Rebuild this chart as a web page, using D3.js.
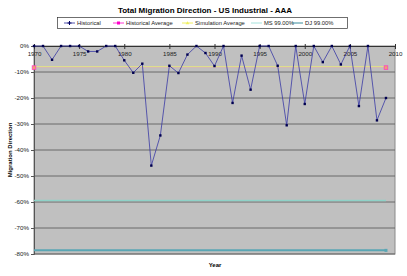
<!DOCTYPE html>
<html lang="en">
<head>
<meta charset="UTF-8">
<title>Total Migration Direction</title>
<style>
  body { margin: 0; background: #fff; }
  text { font-family: Arial, "Liberation Sans", sans-serif; }
</style>
</head>
<body>
<script src="https://d3js.org/d3.v7.min.js"></script>
<script>
    // data
    let years = [1970, 1971, 1972, 1973, 1974, 1975, 1976, 1977, 1978, 1979,
        1980, 1981, 1982, 1983, 1984, 1985, 1986, 1987, 1988, 1989,
        1990, 1991, 1992, 1993, 1994, 1995, 1996, 1997, 1998, 1999,
        2000, 2001, 2002, 2003, 2004, 2005, 2006, 2007, 2008, 2009];
    let historical = [0, 0, -0.053, 0, 0, 0, -0.021, -0.021, 0, 0,
        -0.055, -0.103, -0.068, -0.46, -0.344, -0.076, -0.104, -0.033, 0, -0.027,
        -0.077, 0, -0.219, -0.037, -0.168, 0, 0, -0.076, -0.305, 0,
        -0.223, 0, -0.062, 0, -0.071, 0, -0.231, 0, -0.286, -0.20];
    let histAvgYears = [1970, 2009];
    let histAvg = [-0.083, -0.083];
    let simAvg = [-0.080, -0.080];
    let ms99 = [-0.594, -0.594];
    let dj99 = [-0.786, -0.786];
    let yTicks = [0, -0.1, -0.2, -0.3, -0.4, -0.5, -0.6, -0.7, -0.8];
    let xTicks = [1970, 1975, 1980, 1985, 1990, 1995, 2000, 2005, 2010];

    let w = 407, h = 276;
    let plot = {left: 34, right: 395, top: 46, bottom: 254};

    let svg = d3.select("body").append("svg")
        .attr("width", w)
        .attr("height", h);

    let xScale = d3.scaleLinear().domain([1970, 2010]).range([plot.left, plot.right]);
    let yScale = d3.scaleLinear().domain([-0.8, 0]).range([plot.bottom, plot.top]);

    // plot area
    svg.append("rect")
        .attr("x", plot.left).attr("y", plot.top)
        .attr("width", plot.right - plot.left)
        .attr("height", plot.bottom - plot.top)
        .attr("fill", "#c0c0c0")
        .attr("stroke", "#8a8a8a")
        .attr("stroke-width", 1);

    // gridlines
    svg.append("g").selectAll("line")
        .data(yTicks.slice(1))
        .enter().append("line")
        .attr("x1", plot.left).attr("x2", plot.right)
        .attr("y1", d => yScale(d)).attr("y2", d => yScale(d))
        .attr("stroke", "#606060")
        .attr("stroke-width", 0.9);

    // y axis
    let yAxis = d3.axisLeft(yScale)
        .tickValues(yTicks)
        .tickSize(3)
        .tickFormat(d => Math.round(d * 100) + "%");
    let gy = svg.append("g")
        .attr("transform", "translate(" + plot.left + ",0)")
        .call(yAxis);
    gy.select(".domain").attr("stroke", "#555");
    gy.selectAll(".tick line").attr("stroke", "#555");
    gy.selectAll("text").attr("font-size", "6.2px").attr("fill", "#222").attr("x", -5);

    // x axis crosses at 0%
    let xAxis = d3.axisBottom(xScale)
        .tickValues(xTicks)
        .tickSizeInner(3)
        .tickSizeOuter(0)
        .tickFormat(d3.format("d"));
    let gx = svg.append("g")
        .attr("transform", "translate(0," + yScale(0) + ")")
        .call(xAxis);
    gx.select(".domain").attr("stroke", "#333");
    gx.selectAll(".tick line").attr("stroke", "#333").attr("y1", -2);
    gx.selectAll("text").attr("font-size", "6.2px").attr("fill", "#222").attr("y", 6);

    let line = d3.line()
        .x(d => xScale(d[0]))
        .y(d => yScale(d[1]));

    // DJ 99.00%
    svg.append("path")
        .attr("d", line(histAvgYears.map((y, i) => [y, dj99[i]])))
        .attr("stroke", "#5aa6b4").attr("stroke-width", 2).attr("fill", "none");
    svg.append("rect")
        .attr("x", xScale(2009) - 1.5).attr("y", yScale(dj99[1]) - 1.5)
        .attr("width", 3).attr("height", 3).attr("fill", "#5aa6b4");

    // MS 99.00%
    svg.append("path")
        .attr("d", line(histAvgYears.map((y, i) => [y, ms99[i]])))
        .attr("stroke", "#8fd2c8").attr("stroke-width", 1.5).attr("fill", "none");

    // Simulation average
    svg.append("path")
        .attr("d", line(histAvgYears.map((y, i) => [y, simAvg[i]])))
        .attr("stroke", "#dede8c").attr("stroke-width", 1.4).attr("fill", "none");

    // Historical average
    svg.append("path")
        .attr("d", line(histAvgYears.map((y, i) => [y, histAvg[i]])))
        .attr("stroke", "#d8a8c0").attr("stroke-width", 0.6).attr("fill", "none");
    svg.append("g").selectAll("rect")
        .data(histAvgYears.map((y, i) => [y, histAvg[i]]))
        .enter().append("rect")
        .attr("x", d => xScale(d[0]) - 1.8).attr("y", d => yScale(d[1]) - 1.8)
        .attr("width", 3.6).attr("height", 3.6)
        .attr("fill", "#f0a070").attr("stroke", "#ff40c0").attr("stroke-width", 0.8);

    // Historical
    let histData = years.map((y, i) => [y, historical[i]]);
    svg.append("path")
        .attr("d", line(histData))
        .attr("stroke", "#3a3aa6").attr("stroke-width", 0.8).attr("fill", "none");
    svg.append("g").selectAll("rect")
        .data(histData)
        .enter().append("rect")
        .attr("x", d => xScale(d[0]) - 1.2).attr("y", d => yScale(d[1]) - 1.2)
        .attr("width", 2.4).attr("height", 2.4)
        .attr("fill", "#000050");

    // title
    svg.append("text")
        .attr("x", 205).attr("y", 13)
        .attr("text-anchor", "middle")
        .attr("font-size", "8px").attr("font-weight", "bold")
        .text("Total Migration Direction - US Industrial - AAA");

    // axis titles
    svg.append("text")
        .attr("x", 215).attr("y", 267)
        .attr("text-anchor", "middle")
        .attr("font-size", "6px").attr("font-weight", "bold")
        .text("Year");
    svg.append("text")
        .attr("transform", "translate(12,150) rotate(-90)")
        .attr("text-anchor", "middle")
        .attr("font-size", "6px").attr("font-weight", "bold")
        .text("Migration Direction");

    // legend
    let legend = svg.append("g");
    legend.append("rect")
        .attr("x", 57.5).attr("y", 17.5).attr("width", 290).attr("height", 11)
        .attr("fill", "#fff").attr("stroke", "#333").attr("stroke-width", 0.7);
    let legendItems = [
        {name: "Historical", x: 64, color: "#2a2a9a", w: 0.8, mark: "plus"},
        {name: "Historical Average", x: 113, color: "#ff00cc", w: 0.8, mark: "square"},
        {name: "Simulation Average", x: 182, color: "#f0f060", w: 1, mark: "tri"},
        {name: "MS 99.00%", x: 251, color: "#8fdcd4", w: 0.8, mark: "none"},
        {name: "DJ 99.00%", x: 292, color: "#3a8c9c", w: 1, mark: "none"}
    ];
    legendItems.forEach(function (d) {
        let ly = 23;
        legend.append("line")
            .attr("x1", d.x).attr("x2", d.x + 11).attr("y1", ly).attr("y2", ly)
            .attr("stroke", d.color).attr("stroke-width", d.w);
        if (d.mark === "plus") {
            legend.append("path")
                .attr("d", "M" + (d.x + 5.5) + "," + (ly - 2) + "v4M" + (d.x + 3.5) + "," + ly + "h4")
                .attr("stroke", "#000060").attr("stroke-width", 1);
        } else if (d.mark === "square") {
            legend.append("rect")
                .attr("x", d.x + 4).attr("y", ly - 1.5).attr("width", 3).attr("height", 3)
                .attr("fill", d.color);
        } else if (d.mark === "tri") {
            legend.append("path")
                .attr("d", "M" + (d.x + 5.5) + "," + (ly - 1.8) + "l1.8,3h-3.6z")
                .attr("fill", d.color);
        }
        legend.append("text")
            .attr("x", d.x + 13).attr("y", ly + 2)
            .attr("font-size", "5.8px").attr("fill", "#222")
            .text(d.name);
    });
</script>
</body>
</html>
